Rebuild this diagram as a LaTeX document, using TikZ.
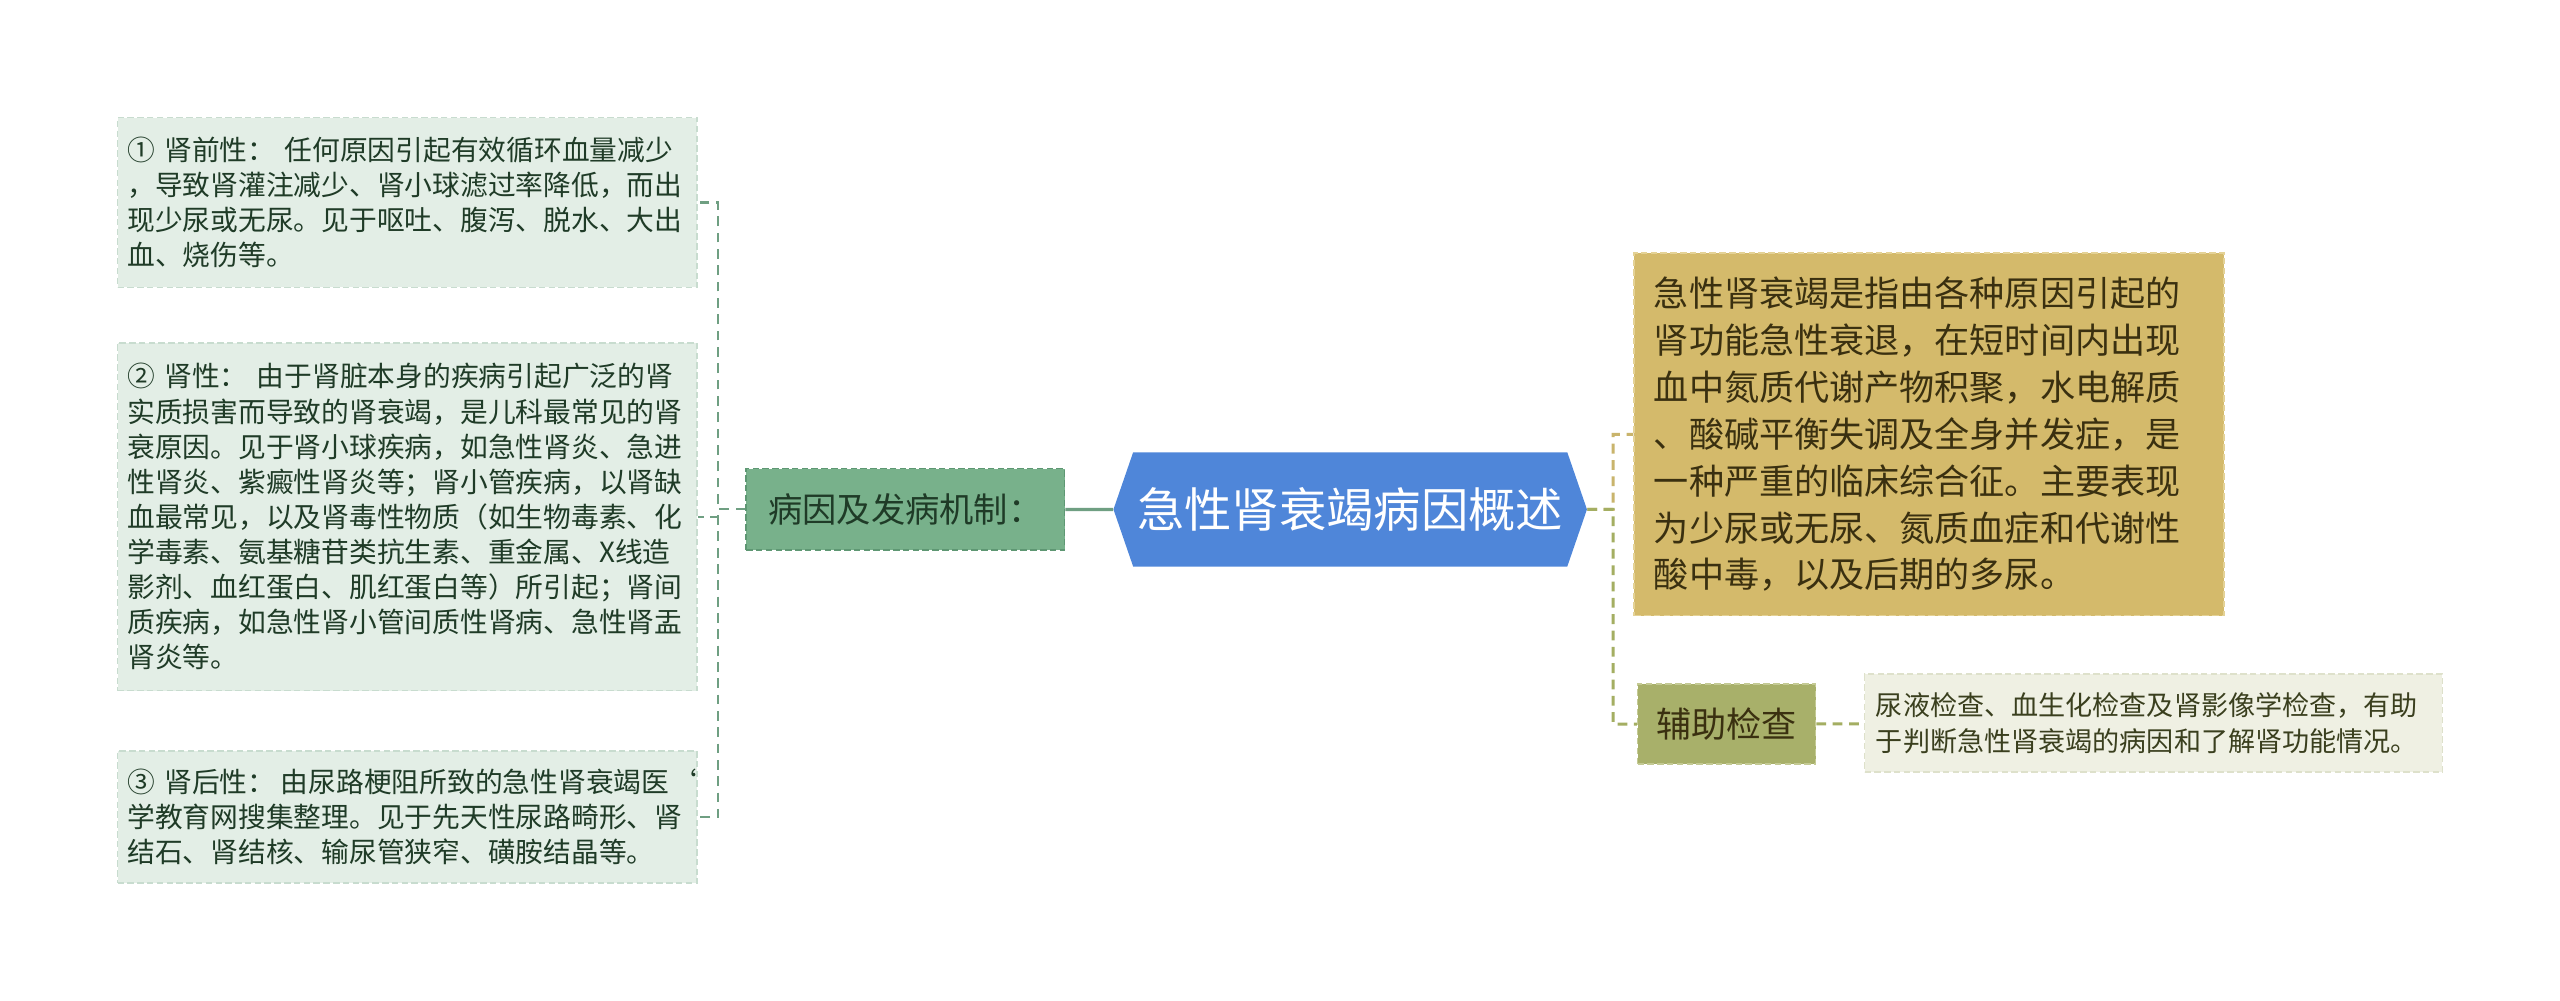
\documentclass[tikz,border=0pt]{standalone}
\usepackage{fontspec}
\setmainfont{Noto Sans CJK SC}
\usetikzlibrary{shapes.symbols,positioning}

\definecolor{leaffill}{HTML}{E3EEE6}
\definecolor{leafedge}{HTML}{C8DCCF}
\definecolor{leaftext}{HTML}{1F3B27}
\definecolor{causefill}{HTML}{78B18B}
\definecolor{causeedge}{HTML}{5E9773}
\definecolor{rootblue}{HTML}{4F86D9}
\definecolor{deffill}{HTML}{D4BA6B}
\definecolor{defedge}{HTML}{E4D296}
\definecolor{deftext}{HTML}{3A3010}
\definecolor{auxfill}{HTML}{A8B06A}
\definecolor{auxedge}{HTML}{C4CA94}
\definecolor{tipfill}{HTML}{EFF0E3}
\definecolor{tipedge}{HTML}{DEE1CB}
\definecolor{tiptext}{HTML}{3A3F1E}
\definecolor{linkgreen}{HTML}{6F9F82}
\definecolor{linkgold}{HTML}{C9B46C}
\definecolor{linkolive}{HTML}{A4AE62}

\begin{document}
\begin{tikzpicture}[x=1pt, y=-1pt,
  leafbox/.style={draw=leafedge, fill=leaffill, dash pattern=on 4pt off 2pt, line width=1pt,
    text=leaftext, align=left, text width=343pt, inner xsep=6pt, inner ysep=0pt,
    minimum width=355pt, font=\fontsize{17}{21.5}\selectfont},
  causebox/.style={draw=causeedge, fill=causefill, dash pattern=on 4pt off 2pt, line width=1pt,
    text=leaftext, minimum width=195pt, minimum height=50pt, inner sep=0pt,
    font=\fontsize{21}{26}\selectfont},
  rootbox/.style={signal, signal to=west and east, signal pointer angle=142, fill=rootblue,
    text=white, minimum width=290pt, minimum height=70pt, inner sep=0pt,
    font=\fontsize{29}{34}\selectfont},
  defbox/.style={draw=defedge, fill=deffill, dash pattern=on 4pt off 2pt, line width=1pt,
    text=deftext, align=left, text width=337pt, inner xsep=12pt, inner ysep=0pt,
    minimum width=361pt, minimum height=222pt, font=\fontsize{21.5}{28.7}\selectfont},
  auxbox/.style={draw=auxedge, fill=auxfill, dash pattern=on 4pt off 2pt, line width=1pt,
    text=deftext, minimum width=109pt, minimum height=49pt, inner sep=0pt,
    font=\fontsize{21.5}{26}\selectfont},
  tipbox/.style={draw=tipedge, fill=tipfill, dash pattern=on 4pt off 2pt, line width=1pt,
    text=tiptext, align=left, text width=340pt, inner xsep=7pt, inner ysep=0pt,
    minimum width=354pt, minimum height=60pt, font=\fontsize{16.6}{22}\selectfont},
  greenlink/.style={draw=linkgreen, line width=1.3pt, dash pattern=on 6pt off 4pt},
  goldlink/.style={draw=linkgold, line width=1.8pt, dash pattern=on 6pt off 4pt},
  olivelink/.style={draw=linkolive, line width=1.8pt, dash pattern=on 6pt off 4pt},
  trunk/.style={draw=linkgreen, line width=2pt}
]
\useasboundingbox[fill=white] (0,0) rectangle (1568,613);

\node[leafbox, minimum height=104pt] (prerenal) at (249.5,124)
  {\mbox{① 肾前性：\ 任何原因引起有效循环血量减少}\\
   ，导致肾灌注减少、肾小球滤过率降低，而出\\
   现少尿或无尿。见于呕吐、腹泻、脱水、大出\\
   血、烧伤等。};
\node[leafbox, minimum height=213pt] (renal) at (249.5,316.5)
  {\mbox{② 肾性：\ 由于肾脏本身的疾病引起广泛的肾}\\
   实质损害而导致的肾衰竭，是儿科最常见的肾\\
   衰原因。见于肾小球疾病，如急性肾炎、急进\\
   性肾炎、紫癜性肾炎等；肾小管疾病，以肾缺\\
   血最常见，以及肾毒性物质（如生物毒素、化\\
   学毒素、氨基糖苷类抗生素、重金属、X线造\\
   影剂、血红蛋白、肌红蛋白等）所引起；肾间\\
   质疾病，如急性肾小管间质性肾病、急性肾盂\\
   肾炎等。};
\node[leafbox, minimum height=81pt] (postrenal) at (249.5,500.5)
  {\mbox{③ 肾后性：\hspace{0.2em}由尿路梗阻所致的急性肾衰竭医{\char96}}\\
   学教育网搜集整理。见于先天性尿路畸形、肾\\
   结石、肾结核、输尿管狭窄、磺胺结晶等。};
\node[causebox] (cause) at (554.5,312) {病因及发病机制：};
\node[rootbox] (root) at (827,312) {急性肾衰竭病因概述};
\node[defbox] (define) at (1181.5,266)
  {急性肾衰竭是指由各种原因引起的\\
   肾功能急性衰退，在短时间内出现\\
   血中氮质代谢产物积聚，水电解质\\
   、酸碱平衡失调及全身并发症，是\\
   一种严重的临床综合征。主要表现\\
   为少尿或无尿、氮质血症和代谢性\\
   酸中毒，以及后期的多尿。};
\node[auxbox] (aux) at (1057.5,443.5) {辅助检查};
\node[tipbox] (exams) at (1319,443)
  {尿液检查、血生化检查及肾影像学检查，有助\\
   于判断急性肾衰竭的病因和了解肾功能情况。};

\coordinate (lj) at (440,312);
\coordinate (rj) at (988,312);

\draw[trunk] (root) -- (cause);
\draw[greenlink] (cause) -- (lj) |- (prerenal.east);
\draw[greenlink] (cause) -- (lj) |- (renal.east);
\draw[greenlink] (cause) -- (lj) |- (postrenal.east);
\draw[goldlink] (root) -- (rj) |- (define.west);
\draw[olivelink] (root) -- (rj) |- (aux.west);
\draw[olivelink] (aux) -- (exams);
\end{tikzpicture}
\end{document}
